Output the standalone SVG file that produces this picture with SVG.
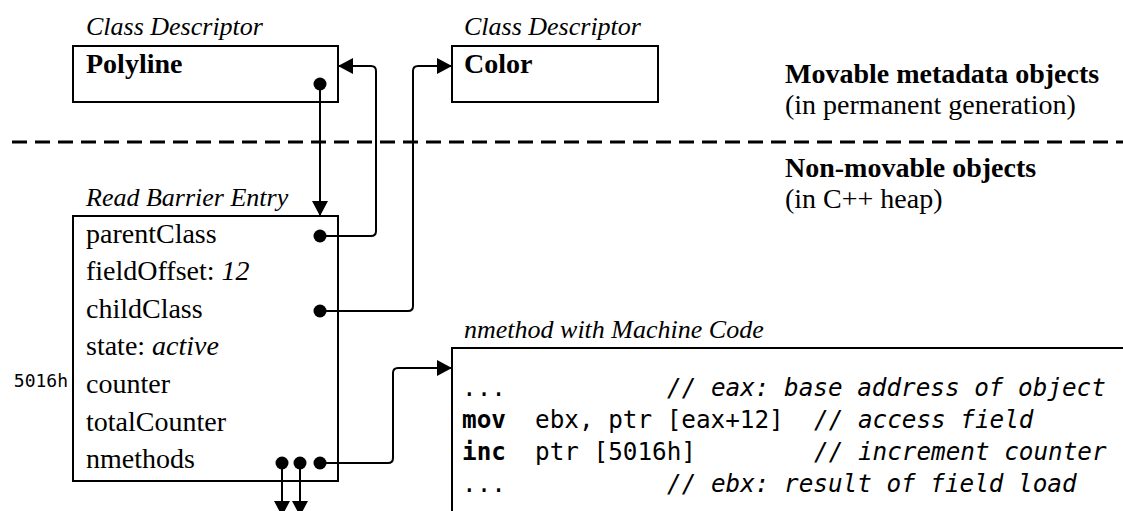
<svg xmlns="http://www.w3.org/2000/svg" width="1123" height="511" viewBox="0 0 1123 511">
  <style>
    .box { fill: #fff; stroke: #000; stroke-width: 2; }
    .serif { font-family: "Liberation Serif", "DejaVu Serif", serif; fill: #000; }
    .cap { font-size: 26px; font-style: italic; }
    .title { font-size: 28px; font-weight: bold; }
    .row { font-size: 28px; }
    .it { font-style: italic; }
    .mono { font-family: "DejaVu Sans Mono", "Liberation Mono", monospace; font-size: 24.3px; fill: #000; }
    .kw { font-weight: bold; }
    .cmt { font-style: italic; }
    .addr { font-family: "DejaVu Sans Mono", "Liberation Mono", monospace; font-size: 18px; fill: #000; }
    .wire { fill: none; stroke: #000; stroke-width: 2; }
    .dot { fill: #000; }
    .divider { stroke: #000; stroke-width: 3; stroke-dasharray: 15 8; }
  </style>
  <defs>
    <marker id="head" markerUnits="userSpaceOnUse" markerWidth="16" markerHeight="16" refX="15" refY="8" orient="auto">
      <path d="M0,0 L15,8 L0,16 z" fill="#000"/>
    </marker>
  </defs>

  <!-- heap region labels and divider -->
  <g id="regions">
    <line class="divider" x1="12" y1="142" x2="1123" y2="142"/>
    <text class="serif title" x="785" y="83">Movable metadata objects</text>
    <text class="serif row" x="785" y="114">(in permanent generation)</text>
    <text class="serif title" x="785" y="177">Non-movable objects</text>
    <text class="serif row" x="785" y="208">(in C++ heap)</text>
  </g>

  <g id="class-polyline">
    <text class="serif cap" x="86" y="35">Class Descriptor</text>
    <rect class="box" x="73" y="46" width="265" height="56"/>
    <text class="serif title" x="86" y="73">Polyline</text>
  </g>

  <g id="class-color">
    <text class="serif cap" x="464" y="35">Class Descriptor</text>
    <rect class="box" x="452" y="46" width="206" height="56"/>
    <text class="serif title" x="464" y="73">Color</text>
  </g>

  <g id="barrier-entry">
    <text class="serif cap" x="86" y="206">Read Barrier Entry</text>
    <rect class="box" x="73" y="216" width="265" height="265"/>
    <text class="serif row" x="86" y="243">parentClass</text>
    <text class="serif row" x="86" y="280">fieldOffset: <tspan class="it">12</tspan></text>
    <text class="serif row" x="86" y="318">childClass</text>
    <text class="serif row" x="86" y="355">state: <tspan class="it">active</tspan></text>
    <text class="serif row" x="86" y="393">counter</text>
    <text class="serif row" x="86" y="431">totalCounter</text>
    <text class="serif row" x="86" y="468">nmethods</text>
    <text class="addr" x="68" y="387" text-anchor="end">5016h</text>
  </g>

  <g id="nmethod">
    <text class="serif cap" x="464" y="338">nmethod with Machine Code</text>
    <rect class="box" x="452" y="348" width="720" height="200"/>
    <text class="mono" x="462" y="396">...</text>
    <text class="mono cmt" x="667" y="396">// eax: base address of object</text>
    <text class="mono kw" x="462" y="428">mov</text>
    <text class="mono" x="535" y="428">ebx, ptr [eax+12]</text>
    <text class="mono cmt" x="814" y="428">// access field</text>
    <text class="mono kw" x="462" y="460">inc</text>
    <text class="mono" x="535" y="460">ptr [5016h]</text>
    <text class="mono cmt" x="814" y="460">// increment counter</text>
    <text class="mono" x="462" y="492">...</text>
    <text class="mono cmt" x="667" y="492">// ebx: result of field load</text>
  </g>

  <g id="connectors">
    <!-- Polyline descriptor -> read barrier entry -->
    <path class="wire" d="M320,84 V216" marker-end="url(#head)"/>
    <!-- parentClass -> Polyline -->
    <path class="wire" d="M320,236 H371 Q376,236 376,231 V71 Q376,66 371,66 H338" marker-end="url(#head)"/>
    <!-- childClass -> Color -->
    <path class="wire" d="M320,311 H408 Q413,311 413,306 V71 Q413,66 418,66 H452" marker-end="url(#head)"/>
    <!-- nmethods -> machine code -->
    <path class="wire" d="M320,463 H388 Q393,463 393,458 V373 Q393,368 398,368 H452" marker-end="url(#head)"/>
    <!-- further nmethods -->
    <path class="wire" d="M282,463 V516" marker-end="url(#head)"/>
    <path class="wire" d="M300,463 V516" marker-end="url(#head)"/>
    <circle class="dot" cx="320" cy="84" r="6.5"/>
    <circle class="dot" cx="320" cy="236" r="6.5"/>
    <circle class="dot" cx="320" cy="311" r="6.5"/>
    <circle class="dot" cx="282" cy="463" r="6.5"/>
    <circle class="dot" cx="300" cy="463" r="6.5"/>
    <circle class="dot" cx="320" cy="463" r="6.5"/>
  </g>
</svg>
